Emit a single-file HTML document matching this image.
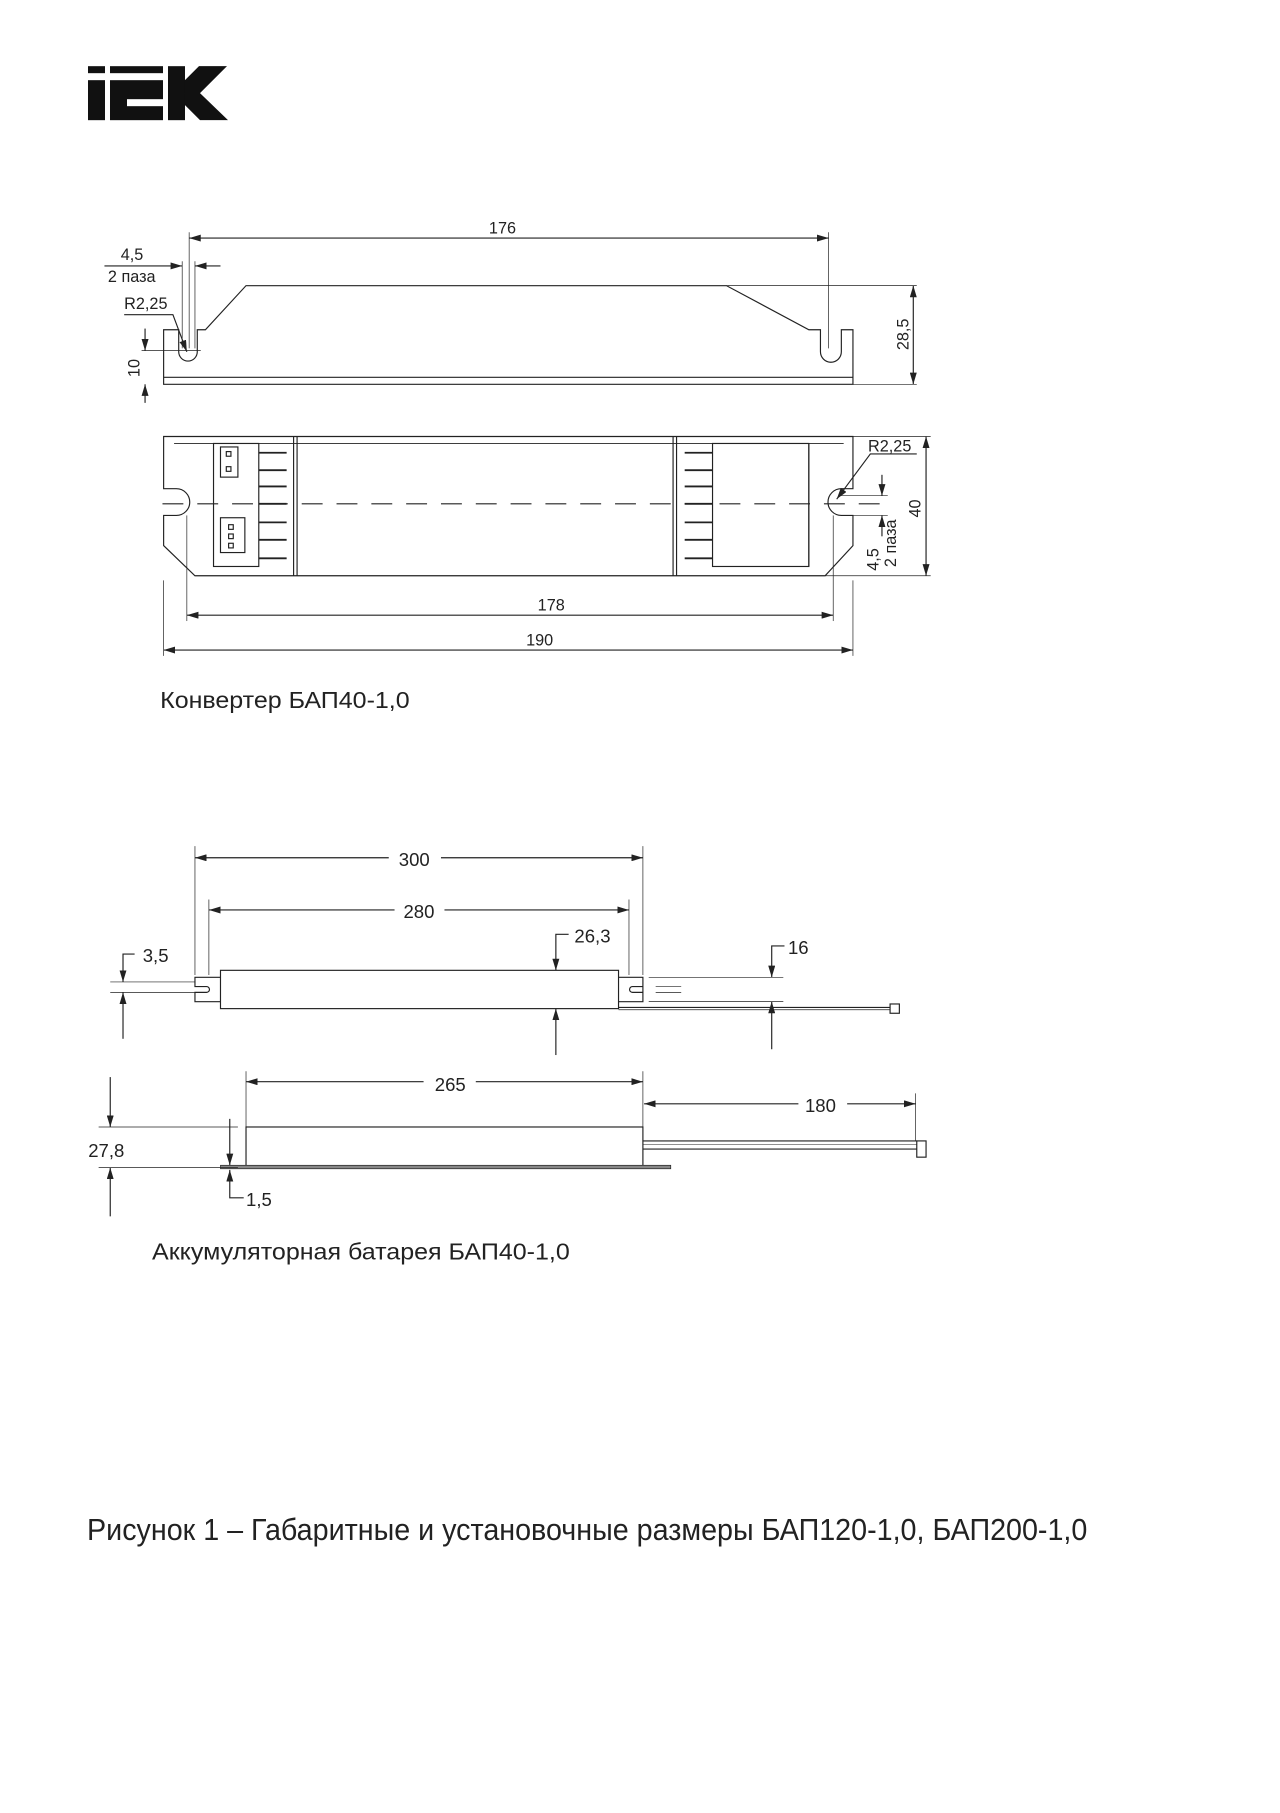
<!DOCTYPE html>
<html><head><meta charset="utf-8"><style>html,body{margin:0;padding:0;background:#fff}svg{display:block}</style></head><body>
<svg width="1280" height="1813" viewBox="0 0 1103 1562" xmlns="http://www.w3.org/2000/svg" font-family="'Liberation Sans', sans-serif">
<defs>
<marker id="a" viewBox="0 0 10 6" refX="10" refY="3" markerWidth="10" markerHeight="6" markerUnits="userSpaceOnUse" orient="auto-start-reverse"><path d="M0,0 L10,3 L0,6 z" fill="#222"/></marker>
</defs>
<rect width="1103" height="1562" fill="#fff"/>
<!-- logo -->
<g transform="scale(0.8617)" fill="#111">
<rect x="88" y="66" width="17" height="7"/><rect x="88" y="80" width="17" height="40"/>
<rect x="110" y="66" width="53" height="7"/><rect x="110" y="80" width="53" height="40"/>
<rect x="127" y="99" width="36" height="7" fill="#fff"/>
<rect x="168" y="66" width="17" height="54"/>
<polygon points="185,80 199,66 227,66 200,93 228,120 200,120 185,105"/>
</g>
<g stroke="#222" stroke-width="1" fill="none">
<!-- converter side view -->
<path d="M141,331 L141,284 L154,284 L154,303 A8,8 0 0 0 170,303 L170,284 L177,284 L212,246 L626,246 L697,284 L707,284 L707,303 A9,9 0 0 0 725,303 L725,284 L735,284 L735,331 Z"/>
<line x1="141" y1="325" x2="735" y2="325"/>
<line x1="163" y1="205" x2="714" y2="205" marker-start="url(#a)" marker-end="url(#a)"/>
<line x1="163" y1="200" x2="163" y2="300" stroke-width="0.6"/>
<line x1="714" y1="200" x2="714" y2="300" stroke-width="0.6"/>
<line x1="157" y1="225" x2="157" y2="300" stroke-width="0.6"/>
<line x1="168" y1="225" x2="168" y2="300" stroke-width="0.6"/>
<line x1="90" y1="229" x2="157" y2="229" marker-end="url(#a)"/>
<line x1="190" y1="229" x2="168" y2="229" marker-end="url(#a)"/>
<polyline points="107,271 149,271 161,303" marker-end="url(#a)"/>
<line x1="626" y1="246" x2="790" y2="246" stroke-width="0.6"/>
<line x1="735" y1="331" x2="790" y2="331" stroke-width="0.6"/>
<line x1="787" y1="246" x2="787" y2="331" marker-start="url(#a)" marker-end="url(#a)"/>
<line x1="122" y1="302" x2="173" y2="302" stroke-width="0.6"/>
<line x1="125" y1="283" x2="125" y2="302" marker-end="url(#a)"/>
<line x1="125" y1="347" x2="125" y2="331" marker-end="url(#a)"/>
<!-- converter plan view -->
<path d="M141,376 L735,376 L735,421 L725,421 A11.5,11.5 0 0 0 725,444 L735,444 L735,470 L711,496 L168,496 L141,470 L141,444 L152,444 A11.5,11.5 0 0 0 152,421 L141,421 Z"/>
<line x1="150" y1="382" x2="727" y2="382" stroke-width="0.8"/>
<line x1="253" y1="376" x2="253" y2="496"/><line x1="256" y1="376" x2="256" y2="496"/>
<line x1="580" y1="376" x2="580" y2="496"/><line x1="583" y1="376" x2="583" y2="496"/>
<rect x="184" y="382" width="39" height="106"/>
<rect x="190" y="385" width="15" height="26"/>
<rect x="190" y="446" width="21" height="30"/>
<rect x="195" y="389" width="4" height="4"/><rect x="195" y="402" width="4" height="4"/>
<rect x="197" y="452" width="4" height="4"/><rect x="197" y="460" width="4" height="4"/><rect x="197" y="468" width="4" height="4"/>
<rect x="614" y="382" width="83" height="106"/>
<line x1="697" y1="382" x2="697" y2="488"/>
<g stroke-width="1.6">
<line x1="223" y1="390" x2="247" y2="390"/><line x1="223" y1="405" x2="247" y2="405"/><line x1="223" y1="419" x2="247" y2="419"/><line x1="223" y1="434" x2="247" y2="434"/><line x1="223" y1="450" x2="247" y2="450"/><line x1="223" y1="465" x2="247" y2="465"/><line x1="223" y1="481" x2="247" y2="481"/>
<line x1="590" y1="390" x2="614" y2="390"/><line x1="590" y1="405" x2="614" y2="405"/><line x1="590" y1="419" x2="614" y2="419"/><line x1="590" y1="434" x2="614" y2="434"/><line x1="590" y1="450" x2="614" y2="450"/><line x1="590" y1="465" x2="614" y2="465"/><line x1="590" y1="481" x2="614" y2="481"/>
</g>
<line x1="140" y1="434" x2="760" y2="434" stroke-dasharray="18,12"/>
<polyline points="790,391 750,391 721,430" marker-end="url(#a)"/>
<line x1="735" y1="376" x2="802" y2="376" stroke-width="0.6"/>
<line x1="711" y1="496" x2="802" y2="496" stroke-width="0.6"/>
<line x1="798" y1="376" x2="798" y2="496" marker-start="url(#a)" marker-end="url(#a)"/>
<line x1="725" y1="427" x2="765" y2="427" stroke-width="0.6"/>
<line x1="725" y1="444" x2="765" y2="444" stroke-width="0.6"/>
<line x1="760" y1="409" x2="760" y2="427" marker-end="url(#a)"/>
<line x1="760" y1="462" x2="760" y2="444" marker-end="url(#a)"/>
<line x1="161" y1="444" x2="161" y2="535" stroke-width="0.6"/>
<line x1="718" y1="444" x2="718" y2="535" stroke-width="0.6"/>
<line x1="161" y1="530" x2="718" y2="530" marker-start="url(#a)" marker-end="url(#a)"/>
<line x1="141" y1="500" x2="141" y2="565" stroke-width="0.6"/>
<line x1="735" y1="500" x2="735" y2="565" stroke-width="0.6"/>
<line x1="141" y1="560" x2="735" y2="560" marker-start="url(#a)" marker-end="url(#a)"/>
<!-- battery top view -->
<line x1="168" y1="729" x2="168" y2="840" stroke-width="0.6"/>
<line x1="554" y1="729" x2="554" y2="840" stroke-width="0.6"/>
<line x1="180" y1="775" x2="180" y2="840" stroke-width="0.6"/>
<line x1="542" y1="775" x2="542" y2="840" stroke-width="0.6"/>
<line x1="168" y1="739" x2="335" y2="739" marker-start="url(#a)"/>
<line x1="380" y1="739" x2="554" y2="739" marker-end="url(#a)"/>
<line x1="180" y1="784" x2="340" y2="784" marker-start="url(#a)"/>
<line x1="383" y1="784" x2="542" y2="784" marker-end="url(#a)"/>
<rect x="190" y="836" width="343" height="33"/>
<path d="M190,842 L168,842 L168,850 L178,850 A2.5,2.5 0 0 1 178,855 L168,855 L168,863 L190,863"/>
<path d="M533,842 L554,842 L554,863 L533,863 M554,850 L545,850 A2.5,2.5 0 0 0 545,855 L554,855"/>
<line x1="559" y1="842" x2="675" y2="842" stroke-width="0.6"/>
<line x1="559" y1="863" x2="675" y2="863" stroke-width="0.6"/>
<line x1="565" y1="850" x2="587" y2="850" stroke-width="0.6"/>
<line x1="565" y1="855" x2="587" y2="855" stroke-width="0.6"/>
<line x1="533" y1="868" x2="767" y2="868"/>
<line x1="533" y1="870" x2="767" y2="870" stroke-width="0.6"/>
<rect x="767" y="865" width="8" height="8"/>
<line x1="95" y1="846" x2="168" y2="846" stroke-width="0.6"/>
<line x1="95" y1="855" x2="168" y2="855" stroke-width="0.6"/>
<polyline points="116,822 106,822 106,846" marker-end="url(#a)"/>
<line x1="106" y1="895" x2="106" y2="855" marker-end="url(#a)"/>
<polyline points="490,805 479,805 479,836" marker-end="url(#a)"/>
<line x1="479" y1="909" x2="479" y2="869" marker-end="url(#a)"/>
<polyline points="676,815 665,815 665,842" marker-end="url(#a)"/>
<line x1="665" y1="904" x2="665" y2="863" marker-end="url(#a)"/>
<!-- battery side view -->
<rect x="212" y="971" width="342" height="35"/>
<rect x="190" y="1004" width="388" height="3" fill="#888" stroke-width="0.6"/>
<line x1="554" y1="983" x2="790" y2="983"/>
<line x1="554" y1="990" x2="790" y2="990"/>
<line x1="554" y1="986" x2="790" y2="986" stroke-width="0.5"/>
<rect x="790" y="983" width="8" height="14"/>
<line x1="212" y1="923" x2="212" y2="971" stroke-width="0.6"/>
<line x1="554" y1="923" x2="554" y2="971" stroke-width="0.6"/>
<line x1="212" y1="932" x2="365" y2="932" marker-start="url(#a)"/>
<line x1="410" y1="932" x2="554" y2="932" marker-end="url(#a)"/>
<line x1="789" y1="942" x2="789" y2="983" stroke-width="0.6"/>
<line x1="555" y1="951" x2="688" y2="951" marker-start="url(#a)"/>
<line x1="730" y1="951" x2="789" y2="951" marker-end="url(#a)"/>
<line x1="85" y1="971" x2="205" y2="971" stroke-width="0.6"/>
<line x1="85" y1="1006" x2="205" y2="1006" stroke-width="0.6"/>
<line x1="95" y1="928" x2="95" y2="971" marker-end="url(#a)"/>
<line x1="95" y1="1048" x2="95" y2="1006" marker-end="url(#a)"/>
<line x1="198" y1="964" x2="198" y2="1004" marker-end="url(#a)"/>
<polyline points="210,1032 198,1032 198,1008" marker-end="url(#a)"/>
</g>
<g fill="#222" font-size="14">
<text x="433" y="201" text-anchor="middle">176</text>
<text x="104" y="224">4,5</text>
<text x="93" y="243">2 паза</text>
<text x="107" y="266">R2,25</text>
<text transform="translate(783,288) rotate(-90)" text-anchor="middle">28,5</text>
<text transform="translate(120,317) rotate(-90)" text-anchor="middle">10</text>
<text x="748" y="389">R2,25</text>
<text transform="translate(793,438) rotate(-90)" text-anchor="middle">40</text>
<text transform="translate(757,482) rotate(-90)" text-anchor="middle">4,5</text>
<text transform="translate(772,468) rotate(-90)" text-anchor="middle">2 паза</text>
<text x="475" y="526" text-anchor="middle">178</text>
<text x="465" y="556" text-anchor="middle">190</text>
<text x="138" y="610" font-size="20" textLength="215" lengthAdjust="spacingAndGlyphs">Конвертер БАП40-1,0</text>
<text x="357" y="746" font-size="16" text-anchor="middle">300</text>
<text x="361" y="791" font-size="16" text-anchor="middle">280</text>
<text x="495" y="812" font-size="16">26,3</text>
<text x="679" y="822" font-size="16">16</text>
<text x="123" y="829" font-size="16">3,5</text>
<text x="388" y="940" font-size="16" text-anchor="middle">265</text>
<text x="707" y="958" font-size="16" text-anchor="middle">180</text>
<text x="76" y="997" font-size="16">27,8</text>
<text x="212" y="1039" font-size="16">1,5</text>
<text x="131" y="1085" font-size="20" textLength="360" lengthAdjust="spacingAndGlyphs">Аккумуляторная батарея БАП40-1,0</text>
<text x="75" y="1327" font-size="26" textLength="862" lengthAdjust="spacingAndGlyphs">Рисунок 1 – Габаритные и установочные размеры БАП120-1,0, БАП200-1,0</text>
</g>
</svg>
</body></html>
